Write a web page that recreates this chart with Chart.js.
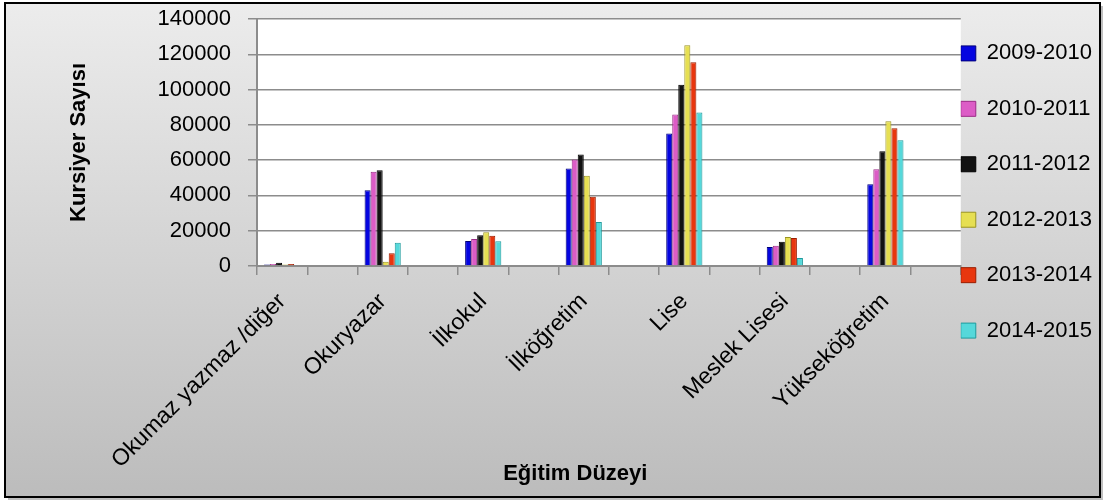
<!DOCTYPE html>
<html lang="tr">
<head>
<meta charset="utf-8">
<title>Kursiyer Sayısı</title>
<script src="https://cdn.jsdelivr.net/npm/chart.js@4/dist/chart.umd.min.js"></script>
<style>
    html, body { margin: 0; padding: 0; background: #fff; }
    #chart-box { width: 1105px; height: 502px; }
</style>
</head>
<body>
<div id="chart-box"><canvas id="kursiyer-chart"></canvas></div>
<script>
// Categories (education level) and series (school years)
const categories = ['Okumaz yazmaz /diğer', 'Okuryazar', 'İlkokul', 'İlköğretim', 'Lise', 'Meslek Lisesi', 'Yükseköğretim'];
const years = ['2009-2010', '2010-2011', '2011-2012', '2012-2013', '2013-2014', '2014-2015'];

const s20092010 = [800, 43000, 14100, 55300, 75100, 10700, 46400];
const s20102011 = [1200, 53400, 15300, 60400, 85900, 11500, 54900];
const s20112012 = [1800, 54300, 17400, 63200, 102800, 13800, 65100];
const s20122013 = [900, 2400, 19200, 51100, 125100, 16400, 82100];
const s20132014 = [1100, 7200, 17100, 39200, 115500, 15800, 78100];
const s20142015 = [0, 13200, 14000, 24900, 87000, 4500, 71300];

const yTicks = [0, 20000, 40000, 60000, 80000, 100000, 120000, 140000];

Chart.defaults.font.family = "'Liberation Sans', Arial, sans-serif";

document.addEventListener('DOMContentLoaded', () => {
    renderChart();
});

// Frame with grey gradient, white plot area
const framePlugin = {
    id: 'frame',
    beforeDraw(chart) {
        const ctx = chart.ctx;
        const area = chart.chartArea;
        ctx.save();
        // shadow
        ctx.fillStyle = 'rgba(0,0,0,0.25)';
        ctx.fillRect(8, 6, 1095, 494);
        const grad = ctx.createLinearGradient(0, 3, 0, 497);
        grad.addColorStop(0, '#ececec');
        grad.addColorStop(1, '#bcbcbc');
        ctx.fillStyle = grad;
        ctx.fillRect(5, 3, 1095, 494);
        ctx.lineWidth = 2;
        ctx.strokeStyle = '#000';
        ctx.strokeRect(5, 3, 1095, 494);
        ctx.fillStyle = '#fff';
        ctx.fillRect(area.left, area.top, area.right - area.left, area.bottom - area.top);
        ctx.restore();
    }
};

function renderChart() {
    // Excel put an empty slot after every category, so interleave nulls
    const labels = categories.flatMap(c => [c, '']);
    const spread = arr => arr.flatMap(v => [v, null]);

    const colors = ['#0505e0', '#dc5cc6', '#121212', '#e6df52', '#e8360e', '#55d8da'];
    const borders = ['#00007a', '#9a2c86', '#000000', '#9a9420', '#9a1e00', '#1e9a9c'];
    const series = [s20092010, s20102011, s20112012, s20122013, s20132014, s20142015];

    const ctx = document.getElementById('kursiyer-chart').getContext('2d');

    window.kursiyerChart = new Chart(ctx, {
        type: 'bar',
        data: {
            labels: labels,
            datasets: series.map((s, i) => ({
                label: years[i],
                data: spread(s),
                backgroundColor: colors[i],
                borderColor: borders[i],
                borderWidth: 1,
                categoryPercentage: 0.72,
                barPercentage: 1.0
            }))
        },
        options: {
            responsive: true,
            maintainAspectRatio: false,
            animation: false,
            layout: {
                padding: { top: 19, left: 5, right: 3, bottom: 5 }
            },
            plugins: {
                tooltip: { enabled: false },
                legend: {
                    position: 'right',
                    align: 'start',
                    title: { display: true, text: '', font: { size: 12 }, padding: 4.5 },
                    labels: {
                        color: '#000',
                        boxWidth: 15,
                        boxHeight: 15,
                        padding: 0,
                        font: { size: 22, lineHeight: 2.52 },
                        // one-line arrays let the row height follow lineHeight
                        generateLabels: chart => Chart.defaults.plugins.legend.labels
                            .generateLabels(chart).map(l => ({ ...l, text: [l.text] }))
                    }
                }
            },
            scales: {
                x: {
                    afterFit: scale => {
                        scale.height = 231;
                        scale.paddingLeft = 0;
                        scale.paddingRight = 0;
                    },
                    grid: {
                        drawOnChartArea: false,
                        offset: true,
                        color: '#8c8c8c',
                        lineWidth: 1.5,
                        tickLength: 9
                    },
                    border: { color: '#8c8c8c', width: 2 },
                    ticks: {
                        autoSkip: false,
                        minRotation: 45,
                        maxRotation: 45,
                        padding: 13,
                        color: '#000',
                        font: { size: 23 }
                    },
                    title: {
                        display: true,
                        // trailing spaces pull the title left like the original
                        text: 'Eğitim Düzeyi\u00a0\u00a0\u00a0\u00a0\u00a0\u00a0\u00a0\u00a0\u00a0\u00a0\u00a0',
                        color: '#000',
                        font: { size: 22, weight: 'bold' },
                        padding: { top: 0, bottom: 10 }
                    }
                },
                y: {
                    min: 0,
                    max: 140000,
                    afterFit: scale => {
                        scale.width = 252;
                        scale.paddingTop = 0;
                        scale.paddingBottom = 0;
                    },
                    afterBuildTicks: scale => { scale.ticks = yTicks.map(v => ({ value: v })); },
                    grid: {
                        color: '#8c8c8c',
                        lineWidth: 1.5,
                        tickLength: 9
                    },
                    border: { color: '#8c8c8c', width: 2 },
                    ticks: {
                        padding: 17,
                        color: '#000',
                        font: { size: 22 },
                        callback: value => String(value)
                    },
                    title: {
                        display: true,
                        text: 'Kursiyer Sayısı',
                        color: '#000',
                        font: { size: 22, weight: 'bold' },
                        padding: { top: 61, bottom: 0 }
                    }
                }
            }
        },
        plugins: [framePlugin]
    });
}
</script>
</body>
</html>
